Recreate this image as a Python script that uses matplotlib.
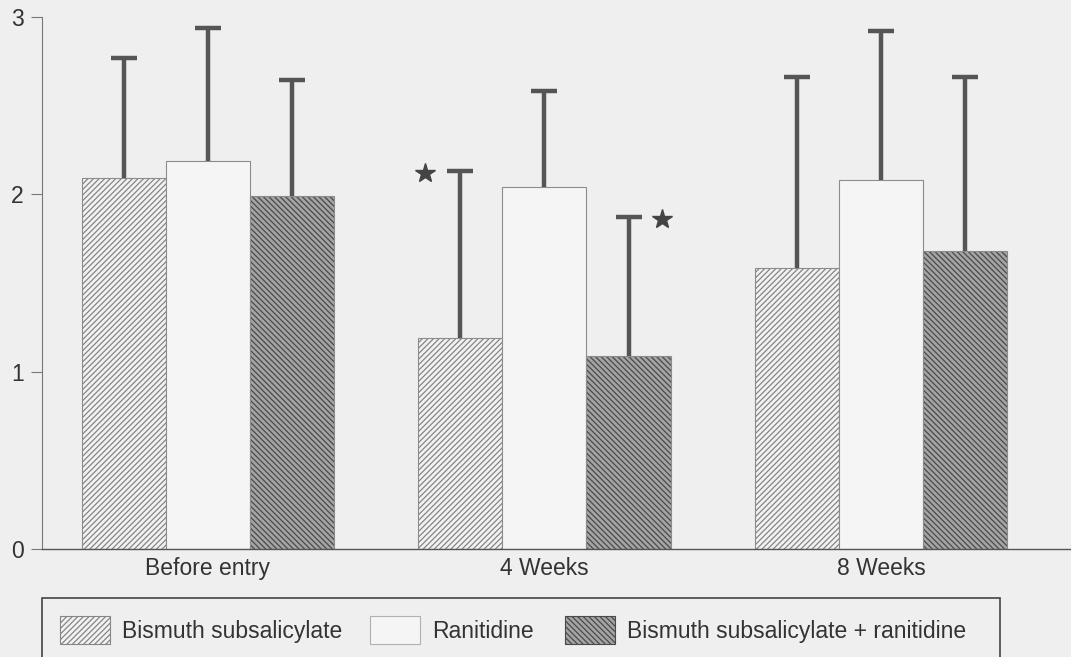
import matplotlib.pyplot as plt
import matplotlib.patches as mpatches
import numpy as np

plt.rcParams['font.family'] = ['Liberation Sans Narrow', 'Liberation Sans', 'DejaVu Sans']
plt.rcParams['hatch.linewidth'] = 0.9

# данні з графіка
groups = ['Before entry', '4 Weeks', '8 Weeks']
series = ['Bismuth subsalicylate', 'Ranitidine', 'Bismuth subsalicylate + ranitidine']
means = [
    [2.09, 1.19, 1.585],   # bismuth subsalicylate
    [2.19, 2.04, 2.08],    # ranitidine
    [1.99, 1.09, 1.68],    # bismuth + ranitidine
]
upper = [
    [2.77, 2.13, 2.66],
    [2.94, 2.58, 2.92],
    [2.645, 1.87, 2.66],
]
stars = [(1, 0), (1, 2)]  # (група, серія) з зірочкою

faces = ['#f2f2f2', '#f5f5f5', '#a4a4a4']
hatch_cols = ['#858585', '#f5f5f5', '#4a4a4a']
hatches = ['//////', '', '\\\\\\\\\\\\']
bg = '#efefef'
fs = 16.5

fig = plt.figure(figsize=(10.71, 6.57), dpi=100, facecolor=bg)
ax = fig.add_axes([0.039, 0.1644, 0.961, 0.8097], facecolor=bg)

x = np.arange(len(groups))
w = 0.25
for i in range(3):
    xs = x + (i - 1) * w
    m = np.array(means[i])
    err = np.array(upper[i]) - m
    ax.bar(xs, m, w, color=faces[i], edgecolor=hatch_cols[i], hatch=hatches[i], linewidth=0)
    ax.bar(xs, m, w, fill=False, edgecolor='#8c8c8c', linewidth=0.8)
    eb = ax.errorbar(xs, m, yerr=[np.zeros_like(err), err], fmt='none', ecolor='#555555',
                     elinewidth=3.2, capsize=9.5, capthick=3.2, zorder=1)
    eb[1][0].set_visible(False)  # ховаємо нижню риску

for g, s in stars:
    xs = g + (s - 1) * w
    off = -0.105 if s == 0 else 0.10
    ax.plot(xs + off, upper[s][g] - 0.01, marker='*', ms=15, color='#444444', ls='none')

ax.set_xlim(-0.494, 2.565)
ax.set_ylim(0, 3)
ax.set_yticks([0, 1, 2, 3])
ax.set_xticks(x)
ax.set_xticklabels(groups, fontsize=fs, color='#333333')
ax.tick_params(axis='x', length=0, pad=6)
ax.tick_params(axis='y', length=8, width=0.8, color='#777777', labelsize=fs, labelcolor='#333333', pad=5)
for sp in ['top', 'right']:
    ax.spines[sp].set_visible(False)
ax.spines['left'].set_color('#777777')
ax.spines['bottom'].set_color('#555555')
ax.spines['left'].set_linewidth(0.8)
ax.spines['bottom'].set_linewidth(1.0)

# рамка легенди
fig.add_artist(mpatches.Rectangle((42 / 1071, -0.05), (1000 - 42) / 1071, 1 - 598 / 657 + 0.05,
                                  transform=fig.transFigure, fill=False, edgecolor='#444444', lw=1.2))
leg_x = [60, 370, 565]
leg_edges = [hatch_cols[0], '#b0b0b0', hatch_cols[2]]
for i in range(3):
    h = mpatches.Patch(facecolor=faces[i], edgecolor=leg_edges[i], hatch=hatches[i], lw=0.8)
    leg = fig.legend([h], [series[i]], loc='center left', bbox_to_anchor=(leg_x[i] / 1071, 1 - 630 / 657),
                     frameon=False, fontsize=fs, handlelength=2.2, handleheight=1.45, handletextpad=0.5,
                     borderpad=0, borderaxespad=0)
    for t in leg.get_texts():
        t.set_color('#333333')

plt.savefig('out.png', dpi=100, facecolor=bg)
